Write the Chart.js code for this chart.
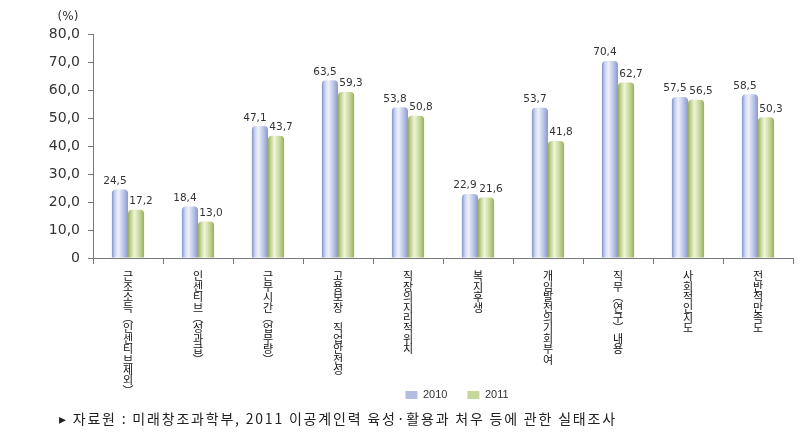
<!DOCTYPE html>
<html>
<head>
<meta charset="utf-8">
<script src="https://cdn.jsdelivr.net/npm/chart.js@4.4.0/dist/chart.umd.min.js"></script>
<style>
  body { margin: 0; background: #fff; }
  #wrap { position: relative; width: 806px; height: 443px; }
  #source {
    position: absolute; left: 59px; top: 408px;
    font-family: "Noto Sans CJK KR", sans-serif; font-size: 14px; color: #222;
    letter-spacing: 1.8px; white-space: nowrap;
  }
</style>
</head>
<body>
<div id="wrap">
  <canvas id="chart" width="806" height="443"></canvas>
  <div id="source">▸ 자료원 : 미래창조과학부, 2011 이공계인력 육성·활용과 처우 등에 관한 실태조사</div>
</div>
<script>
// données
const categories = ['근조소득(인센티브제외)', '인센티브(성과급)', '근무시간(업무량)', '고용보장 직업안전성', '직장의지리적위치',
  '복지후생', '개임발전의기회부여', '직무(연구)내용', '사회적인지도', '전반적만족도'];
const values2010 = [24.5, 18.4, 47.1, 63.5, 53.8, 22.9, 53.7, 70.4, 57.5, 58.5];
const values2011 = [17.2, 13.0, 43.7, 59.3, 50.8, 21.6, 41.8, 62.7, 56.5, 50.3];
const yTicks = [0, 10, 20, 30, 40, 50, 60, 70, 80];

const fmt = v => v === 0 ? '0' : v.toFixed(1).replace('.', ',');

// texte vertical : un caractère par ligne
function verticalLabel(s) {
  return Array.from(s).map(c => c === '(' ? '︵' : c === ')' ? '︶' : c === ' ' ? '' : c);
}

// dégradé type cylindre
const gradStops = {
  0: ['#8594c8', '#cdd5f0', '#eef1fb', '#b6c0e4', '#8a98cc'],
  1: ['#96ad5e', '#c8d99c', '#eef5d8', '#c2d392', '#98ae60']
};

const barStyle = {
  id: 'barStyle',
  beforeDatasetsDraw(chart) {
    const ctx = chart.ctx;
    chart.data.datasets.forEach((ds, i) => {
      const stops = gradStops[i];
      chart.getDatasetMeta(i).data.forEach(bar => {
        const g = ctx.createLinearGradient(bar.x - bar.width / 2, 0, bar.x + bar.width / 2, 0);
        g.addColorStop(0, stops[0]);
        g.addColorStop(0.2, stops[1]);
        g.addColorStop(0.4, stops[2]);
        g.addColorStop(0.75, stops[3]);
        g.addColorStop(1, stops[4]);
        bar.options.backgroundColor = g;
      });
    });
  },
  afterDatasetsDraw(chart) {
    const ctx = chart.ctx;
    ctx.save();
    ctx.font = '10.5px "DejaVu Sans"';
    ctx.fillStyle = '#333';
    ctx.textAlign = 'center';
    ctx.textBaseline = 'bottom';
    chart.data.datasets.forEach((ds, i) => {
      const dx = i === 0 ? -5 : 5;
      chart.getDatasetMeta(i).data.forEach((bar, j) => {
        ctx.fillText(fmt(ds.data[j]), bar.x + dx, bar.y - 3);
      });
    });
    // unité
    const y = chart.scales.y;
    ctx.font = '12px "DejaVu Sans"';
    ctx.textBaseline = 'middle';
    ctx.fillText('(%)', 68, y.top - 17);
    ctx.restore();
  },
  afterLayout(chart) {
    // légende placée dans la zone des étiquettes, décalée à droite
    const L = chart.legend;
    const h = L.bottom - L.top, w = L.right - L.left;
    L.top = 390 - h / 2; L.bottom = L.top + h;
    L.left = 457 - w / 2; L.right = L.left + w;
  }
};

new Chart(document.getElementById('chart'), {
  type: 'bar',
  data: {
    labels: categories,
    datasets: [
      { label: '2010', data: values2010, backgroundColor: () => '#b3bce2', borderWidth: 0,
        borderRadius: { topLeft: 4, topRight: 4 }, borderSkipped: 'bottom' },
      { label: '2011', data: values2011, backgroundColor: () => '#c6d79c', borderWidth: 0,
        borderRadius: { topLeft: 4, topRight: 4 }, borderSkipped: 'bottom' }
    ]
  },
  options: {
    responsive: false,
    animation: false,
    layout: { padding: { top: 34, right: 13, bottom: 0, left: 0 } },
    datasets: { bar: { categoryPercentage: 0.46, barPercentage: 1.0 } },
    plugins: {
      legend: {
        position: 'bottom',
        labels: {
          boxWidth: 12, boxHeight: 8, padding: 20,
          font: { family: 'Liberation Sans', size: 11 }, color: '#333'
        }
      },
      tooltip: { enabled: false }
    },
    scales: {
      x: {
        grid: { drawOnChartArea: false, tickLength: 6, color: '#777', offset: true },
        border: { color: '#777' },
        ticks: {
          maxRotation: 0, autoSkip: false, padding: 7,
          font: { family: 'Noto Sans CJK KR', size: 11, lineHeight: '10.4px' }, color: '#111',
          callback: (v, i) => verticalLabel(categories[i])
        },
        afterFit: s => { s.height = s.chart.height - 258 - s.chart.legend.height; }
      },
      y: {
        min: 0, max: 80,
        grid: { drawOnChartArea: false, tickLength: 5, color: '#777' },
        border: { color: '#777' },
        afterBuildTicks: s => { s.ticks = yTicks.map(v => ({ value: v })); },
        ticks: {
          padding: 8,
          font: { family: 'DejaVu Sans', size: 14 }, color: '#333',
          callback: v => fmt(v)
        },
        afterFit: s => { s.width = 93; }
      }
    }
  },
  plugins: [barStyle]
});
</script>
</body>
</html>
